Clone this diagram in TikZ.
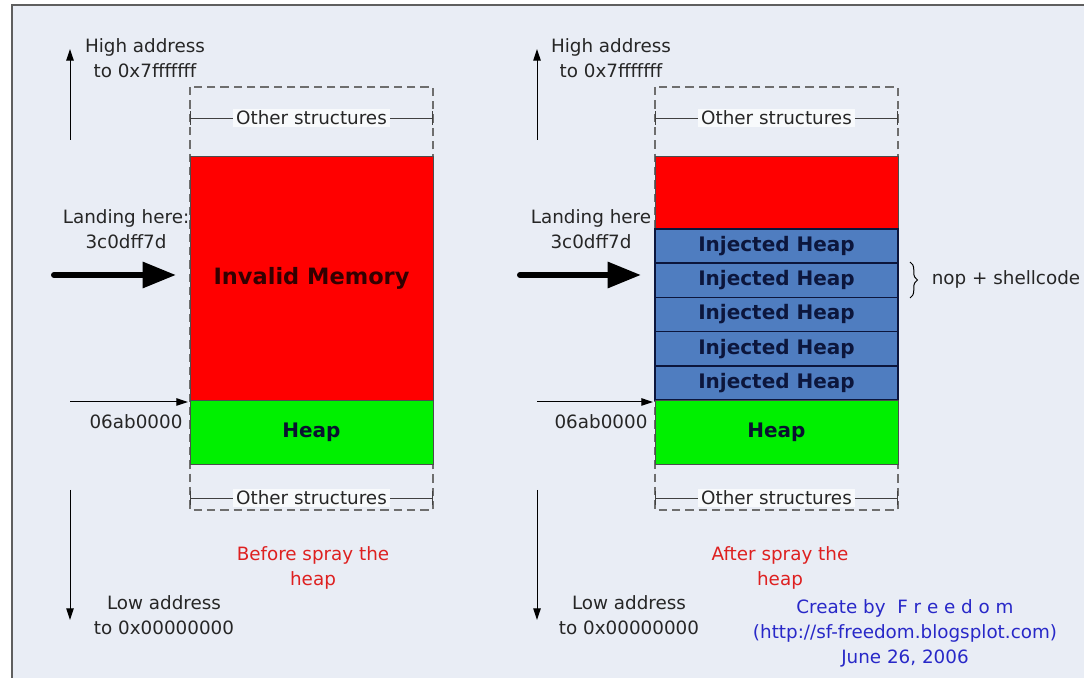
\documentclass[tikz,border=0pt]{standalone}
\usepackage{fontspec}
\setmainfont{DejaVu Sans}
\usetikzlibrary{arrows.meta,decorations.pathreplacing}

\definecolor{paper}{RGB}{233,237,245}
\definecolor{frameline}{RGB}{95,95,95}
\definecolor{invalidred}{RGB}{255,0,0}
\definecolor{heapgreen}{RGB}{0,240,0}
\definecolor{injblue}{RGB}{79,125,192}
\definecolor{injnavy}{RGB}{12,22,60}
\definecolor{captionred}{RGB}{222,32,32}
\definecolor{creditblue}{RGB}{40,40,200}
\definecolor{dashgray}{RGB}{110,110,110}

\begin{document}
\begin{tikzpicture}[x=0.6pt, y=-0.6pt,
  every node/.style={font=\fontsize{11}{15}\selectfont, inner sep=1pt, text=black!85},
  block/.style={draw=black!70, line width=0.5pt, minimum width=145.8pt, inner sep=0pt,
    font=\bfseries\fontsize{12}{14}\selectfont, text=injnavy!80!black},
  injblock/.style={block, draw=injnavy, line width=0.9pt, fill=injblue, text=injnavy,
    minimum height=20.52pt},
  dashbox/.style={draw=dashgray, dash pattern=on 5pt off 3pt, line width=0.8pt},
  dimline/.style={draw=black!75, line width=0.5pt, {Bar[width=8pt]}-{Bar[width=8pt]}},
  dimlabel/.style={fill=white!70!paper, inner xsep=2pt, inner ysep=1pt},
  fatarrow/.style={line width=3.6pt, line cap=round, -{Triangle[length=20pt,width=15pt]}},
  thinarrow/.style={line width=0.6pt, -{Triangle[length=7pt,width=4.5pt]}},
  caption/.style={align=center, text=captionred}
]
\useasboundingbox (0,0) rectangle (1084,678);

%%% background
\fill[white] (0,0) rectangle (1084,678);
\fill[paper] (12,5) rectangle (1084,678);
\draw[frameline, line width=0.8pt] (12,678) -- (12,5) -- (1084,5);

%%% before spray (left)

% outer dashed frame
\draw[dashbox] (190,87) rectangle (433,510);

% memory blocks
\node[block, fill=invalidred, minimum height=146.4pt, text=black!80!red, font=\bfseries\fontsize{13.5}{16}\selectfont] (inv) at (311.5,278) {Invalid Memory};
\node[block, fill=heapgreen, minimum height=38.4pt] (heap) at (311.5,432) {Heap};

% other structures
\coordinate (otl1) at (190,118);
\coordinate (otr1) at (433,118);
\draw[dimline] (otl1) -- (otr1) node[midway, dimlabel] (ot1) {Other structures};
\coordinate (obl1) at (190,498);
\coordinate (obr1) at (433,498);
\draw[dimline] (obl1) -- (obr1) node[midway, dimlabel] (ob1) {Other structures};

% address labels
\node[align=center] (high1) at (145,58.5) {High address\\to 0x7fffffff};
\node[align=center] (low1) at (164,615.5) {Low address\\to 0x00000000};
\node[align=center] (land1) at (126,229.5) {Landing here:\\3c0dff7d};
\node (base1) at (136,422) {06ab0000};
\node[caption] (cap1) at (313,567.5) {Before spray the\\heap};

% arrows
\coordinate (up1a) at (70,140);
\coordinate (up1b) at (70,49);
\draw[thinarrow] (up1a) -- (up1b);
\coordinate (dn1a) at (70,490);
\coordinate (dn1b) at (70,620);
\draw[thinarrow] (dn1a) -- (dn1b);
\coordinate (fa1a) at (54,275);
\coordinate (fa1b) at (176,275);
\draw[fatarrow] (fa1a) -- (fa1b);
\coordinate (ba1a) at (70,402);
\coordinate (ba1b) at (188,402);
\draw[thinarrow] (ba1a) -- (ba1b);

%%% after spray (right)

% outer dashed frame
\draw[dashbox] (655,87) rectangle (898,510);

% memory blocks
\node[block, fill=invalidred, minimum height=43.8pt] (inv2) at (776.5,192.5) {};
\foreach \i in {0,...,4}
  \node[injblock] (inj\i) at (776.5,{246.1+34.2*\i}) {Injected Heap};
\node[block, fill=heapgreen, minimum height=38.4pt] (heap2) at (776.5,432) {Heap};

% other structures
\coordinate (otl2) at (655,118);
\coordinate (otr2) at (898,118);
\draw[dimline] (otl2) -- (otr2) node[midway, dimlabel] (ot2) {Other structures};
\coordinate (obl2) at (655,498);
\coordinate (obr2) at (898,498);
\draw[dimline] (obl2) -- (obr2) node[midway, dimlabel] (ob2) {Other structures};

% nop + shellcode brace
\coordinate (br1) at (910,262);
\coordinate (br2) at (910,298);
\draw[decorate, decoration={brace, amplitude=4.5pt}, line width=0.6pt] (br1) -- (br2);
\node (nop) at (1006,279) {nop + shellcode};

% address labels
\node[align=center] (high2) at (611,58.5) {High address\\to 0x7fffffff};
\node[align=center] (low2) at (629,615.5) {Low address\\to 0x00000000};
\node[align=center] (land2) at (591,229.5) {Landing here\\3c0dff7d};
\node (base2) at (601,422) {06ab0000};
\node[caption] (cap2) at (780,567.5) {After spray the\\heap};

% arrows
\coordinate (up2a) at (537,140);
\coordinate (up2b) at (537,49);
\draw[thinarrow] (up2a) -- (up2b);
\coordinate (dn2a) at (537,490);
\coordinate (dn2b) at (537,620);
\draw[thinarrow] (dn2a) -- (dn2b);
\coordinate (fa2a) at (520,275);
\coordinate (fa2b) at (641,275);
\draw[fatarrow] (fa2a) -- (fa2b);
\coordinate (ba2a) at (537,402);
\coordinate (ba2b) at (653,402);
\draw[thinarrow] (ba2a) -- (ba2b);

%%% credit
\node[align=center, text=creditblue] (credit) at (905,633) {Create by\ \ F r e e d o m\\(http://sf-freedom.blogsplot.com)\\June 26, 2006};
\end{tikzpicture}
\end{document}
